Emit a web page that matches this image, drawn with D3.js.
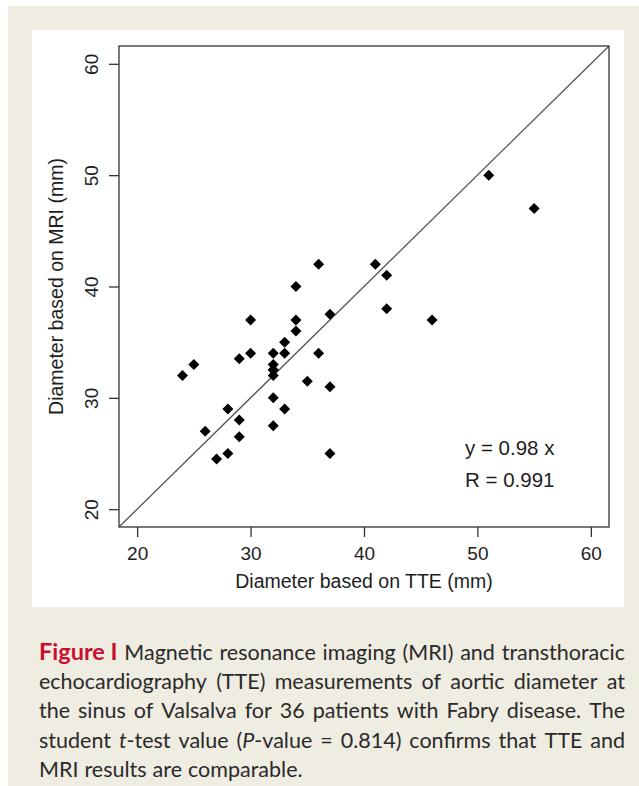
<!DOCTYPE html>
<html><head><meta charset="utf-8">
<script src="https://cdn.jsdelivr.net/npm/d3@7"></script>
<style>body{margin:0;background:#fff}svg{display:block}</style>
</head><body><svg id="c" width="639" height="786"></svg>
<script>
// ---- data ----
const tte = [24,25,26,27,28,28,29,29,29,30,30,32,32,32,32,32,32,32,33,33,33,34,34,34,35,36,36,37,37,37,41,42,42,46,51,55];
const mri = [32,33,27,24.5,25,29,26.5,28,33.5,37,34,34,33,32.5,32.5,32,30,27.5,34,35,29,36,37,40,31.5,34,42,37.5,31,25,42,41,38,37,50,47];
const xTicks = [20,30,40,50,60];
const yTicks = [20,30,40,50,60];
const xLim = [20,60];
const yLim = [20,60];
const fitText = "y = 0.98 x";
const rText = "R = 0.991";
const xTitle = "Diameter based on TTE (mm)";
const yTitle = "Diameter based on MRI (mm)";
// caption: lines -> words -> segments [text, style]
const caption = [
  [[["Figure I","fig"]],[["Magnetic"]],[["resonance"]],[["imaging"]],[["(MRI)"]],[["and"]],[["transthoracic"]]],
  [[["echocardiography"]],[["(TTE)"]],[["measurements"]],[["of"]],[["aortic"]],[["diameter"]],[["at"]]],
  [[["the"]],[["sinus"]],[["of"]],[["Valsalva"]],[["for"]],[["36"]],[["patients"]],[["with"]],[["Fabry"]],[["disease."]],[["The"]]],
  [[["student"]],[["t","i"],["-test"]],[["value"]],[["(","n"],["P","i"],["-value"]],[["="]],[["0.814)"]],[["confirms"]],[["that"]],[["TTE"]],[["and"]]],
  [[["MRI"]],[["results"]],[["are"]],[["comparable."]]]
];

const svg = d3.select("#c");
// background frame
svg.append("rect").attr("x",8).attr("y",6).attr("width",631).attr("height",780).attr("fill","#efece2");
svg.append("rect").attr("x",32).attr("y",30).attr("width",592).attr("height",577).attr("fill","#ffffff");

const pad = (a)=>{const d=(a[1]-a[0])*0.04;return [a[0]-d,a[1]+d];};
const L=119,R=609,T=46,B=527;
const x = d3.scaleLinear().domain(pad(xLim)).range([L,R]);
const y = d3.scaleLinear().domain(pad(yLim)).range([B,T]);
const font = "'Liberation Sans', Arial, sans-serif";
const ink = "#1e1e1e";

// identity reference line, clipped to plot
svg.append("clipPath").attr("id","pc").append("rect").attr("x",L).attr("y",T).attr("width",R-L).attr("height",B-T);
const lo = pad(xLim)[0], hi = pad(xLim)[1];
svg.append("line").attr("clip-path","url(#pc)")
  .attr("x1",x(lo)).attr("y1",y(lo)).attr("x2",x(hi)).attr("y2",y(hi))
  .attr("stroke","#555").attr("stroke-width",1.3);

// points (filled diamonds)
svg.append("g").selectAll("path").data(tte.map((v,i)=>[v,mri[i]])).join("path")
  .attr("transform",d=>`translate(${x(d[0])},${y(d[1])})`)
  .attr("d","M0,-5.5L5.5,0L0,5.5L-5.5,0Z").attr("fill","#000");

// box
svg.append("rect").attr("x",L).attr("y",T).attr("width",R-L).attr("height",B-T)
  .attr("fill","none").attr("stroke","#333").attr("stroke-width",1.3);

// axes
const xa = svg.append("g").attr("transform",`translate(0,${B})`)
  .call(d3.axisBottom(x).tickValues(xTicks).tickSize(10).tickPadding(6).tickFormat(d3.format("d")));
const ya = svg.append("g").attr("transform",`translate(${L},0)`)
  .call(d3.axisLeft(y).tickValues(yTicks).tickSize(10).tickPadding(6).tickFormat(d3.format("d")));
[xa,ya].forEach(g=>{g.select(".domain").remove();
  g.selectAll(".tick line").attr("stroke","#333").attr("stroke-width",1.3);
  g.selectAll(".tick text").attr("font-family",font).attr("font-size",19).attr("fill",ink);});
xa.selectAll(".tick text").attr("y",20).attr("dy","0.71em");
ya.selectAll(".tick text").attr("x",null).attr("dy",null).attr("text-anchor","middle")
  .attr("transform","translate(-21,0) rotate(-90)").attr("y",0);

svg.append("text").attr("x",(L+R)/2).attr("y",588).attr("text-anchor","middle")
  .attr("font-family",font).attr("font-size",19.5).attr("fill",ink).text(xTitle);
svg.append("text").attr("transform",`translate(63,${(T+B)/2}) rotate(-90)`).attr("text-anchor","middle")
  .attr("font-family",font).attr("font-size",19.5).attr("fill",ink).text(yTitle);

svg.append("text").attr("x",465).attr("y",455).attr("font-family",font).attr("font-size",20.5).attr("fill",ink)
  .attr("xml:space","preserve").text(fitText);
svg.append("text").attr("x",465).attr("y",487).attr("font-family",font).attr("font-size",20.5).attr("fill",ink)
  .attr("xml:space","preserve").text(rText);

// caption, justified
const capL = 39, capR = 625, capTop = 660, lh = 29.2;
const cfont = "Lato, 'Open Sans', sans-serif";
caption.forEach((line,li)=>{
  const by = capTop + li*lh;
  const words = line.map(w=>{
    const t = svg.append("text").attr("y",by).attr("font-family",cfont).attr("font-size",21.5).attr("fill","#2a2a2a");
    w.forEach(([s,st])=>{
      const ts = t.append("tspan").text(s);
      if(st==="fig"){ts.attr("font-weight","bold").attr("fill","#c8102e").attr("font-size",23.5);}
      if(st==="i"){ts.attr("font-style","italic");}
    });
    return t;
  });
  const widths = words.map(t=>t.node().getComputedTextLength());
  const total = d3.sum(widths);
  const last = li===caption.length-1;
  const gap = last ? 6 : (capR-capL-total)/(words.length-1);
  let cx = capL;
  words.forEach((t,i)=>{t.attr("x",cx); cx += widths[i] + gap;});
});
</script></body></html>
